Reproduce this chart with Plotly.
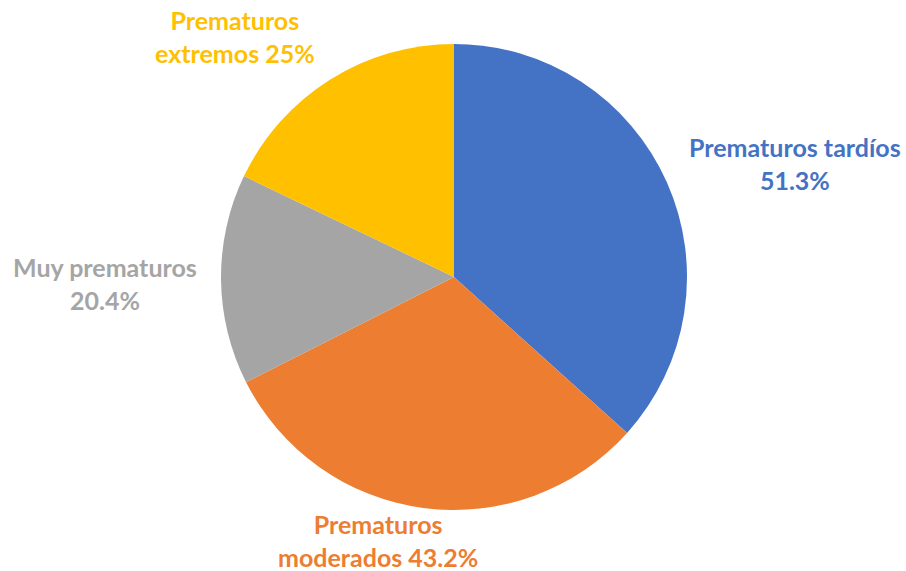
import plotly.graph_objects as go

categories = ['Prematuros tardíos', 'Prematuros moderados', 'Muy prematuros', 'Prematuros extremos']
values = [51.3, 43.2, 20.4, 25]
label_texts = ['Prematuros tardíos<br>51.3%', 'Prematuros<br>moderados 43.2%',
               'Muy prematuros<br>20.4%', 'Prematuros<br>extremos 25%']
colors = ['#4472C4', '#ED7D31', '#A5A5A5', '#FFC000']

W, H = 906, 571
cx, cy, r = 454, 277, 233

fig = go.Figure()

fig.add_trace(go.Pie(
    labels=categories,
    values=values,
    sort=False,
    direction='clockwise',
    rotation=0,
    marker=dict(colors=colors, line=dict(width=0)),
    textinfo='none',
    hoverinfo='label+value',
    showlegend=False,
    domain=dict(x=[(cx - r) / W, (cx + r) / W],
                y=[(H - cy - r) / H, (H - cy + r) / H]),
))

# label centres in pixels (as placed in the original)
label_pos = [(795, 164), (378, 540), (105, 283), (235, 36)]

for text, color, (px, py) in zip(label_texts, colors, label_pos):
    fig.add_annotation(
        x=px / W, y=1 - py / H, xref='paper', yref='paper',
        text='<b>' + text + '</b>', showarrow=False,
        font=dict(family='Lato', size=25, color=color),
        align='center', xanchor='center', yanchor='middle',
    )

fig.update_layout(
    width=W, height=H,
    margin=dict(l=0, r=0, t=0, b=0),
    paper_bgcolor='white',
    plot_bgcolor='white',
)

fig.write_html("out.html", config={'displayModeBar': False},
               post_script="document.body.style.margin='0';")
